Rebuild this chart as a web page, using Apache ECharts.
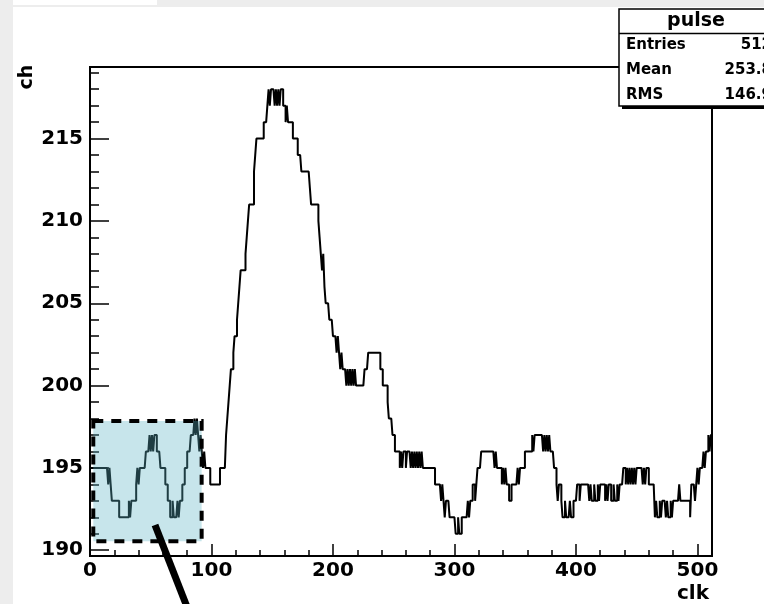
<!DOCTYPE html>
<html>
<head>
<meta charset="utf-8">
<script src="https://cdn.jsdelivr.net/npm/echarts@6/dist/echarts.min.js"></script>
<style>
  html, body { margin: 0; padding: 0; background: #fff; }
  #main { width: 764px; height: 604px; }
</style>
</head>
<body>
<div id="main"></div>
<script>
// histogram "pulse", 512 bins; each run = [value, number of consecutive bins]
const runs = [
  [195,15],[194,1],[195,1],[194,1],[193,6],[192,8],[193,1],[192,1],[193,4],[194,1],
  [195,1],[194,1],[195,5],[196,3],[197,1],[196,1],[197,1],[196,1],[197,2],[196,1],
  [196,2],[195,4],[194,2],[193,2],[192,2],[193,1],[192,3],[193,1],[192,1],[193,2],
  [194,2],[195,2],[196,3],[197,3],[198,1],[197,1],[198,1],[197,1],[196,1],[197,1],
  [196,1],[195,1],[196,1],[195,4],[194,8],[195,5],
  [197,1],[198,1],[199,1],[200,1],[201,2],[202,1],[203,2],[204,1],[205,1],[206,1],
  [207,4],[208,1],[209,1],[210,1],[211,4],[213,1],[214,1],[215,6],[216,3],
  [217,1],[218,1],[217,1],[218,3],[217,1],[218,1],[217,1],[218,1],[217,1],[218,2],
  [217,2],[216,1],[217,1],[216,4],[215,4],[214,3],[213,7],[212,1],[211,6],[210,1],
  [209,1],[208,1],[207,1],[208,1],[206,1],[205,3],[204,3],[203,3],[202,1],[203,1],
  [202,1],[201,1],[202,1],[201,1],[201,2],
  [200,1],[201,1],[200,1],[201,1],[200,1],[201,1],[200,1],[201,1],[200,7],[201,3],
  [202,10],[201,2],[200,4],[199,1],[198,3],[197,2],[196,4],
  [195,1],[196,1],[195,1],[196,2],[195,1],[196,3],[195,1],[196,1],[195,1],[196,1],
  [195,1],[196,1],[195,1],[196,1],[195,1],[196,1],
  [195,10],[194,5],[193,1],[194,1],[193,1],[192,1],[193,3],[192,5],[191,2],[192,1],
  [191,2],[192,5],[193,1],[192,1],[193,2],[194,2],[193,1],[194,1],[195,3],[196,11],
  [195,1],[196,1],[195,4],[194,1],[195,1],[194,1],[195,1],[194,2],[193,2],[194,5],
  [195,1],[194,1],[195,4],[196,6],
  [197,1],[196,1],[197,7],[196,1],[197,1],[196,1],[197,1],[196,1],[197,1],
  [196,3],[195,2],[194,1],[193,1],[194,2],
  [193,1],[192,2],[193,1],[192,3],[193,1],[192,2],[193,3],[194,2],[193,1],[194,7],
  [193,1],[194,1],[193,2],[194,1],[193,2],[194,1],[193,1],[194,4],
  [193,1],[194,1],[193,1],[194,2],[193,2],[194,1],[193,2],[194,1],[193,1],[194,3],
  [195,2],[194,1],[195,1],[194,1],[195,1],[194,1],[195,1],[194,1],[195,1],[194,1],
  [195,5],[194,1],[195,1],[194,1],[195,2],[194,5],
  [192,1],[193,1],[192,2],[193,1],[192,1],[193,3],[192,1],[193,1],[192,2],[193,1],
  [192,1],[193,5],[194,1],[193,8],[192,1],[194,3],[193,1],[194,1],[195,1],[194,1],
  [195,3],[196,1],[195,1],[196,2],[197,1],[196,1],[197,1]
];

const xMajor = [0, 100, 200, 300, 400, 500];
const xMinor = [20, 40, 60, 80, 120, 140, 160, 180, 220, 240, 260, 280,
                320, 340, 360, 380, 420, 440, 460, 480];
const yMajor = [190, 195, 200, 205, 210, 215];
const yMinor = [191, 192, 193, 194, 196, 197, 198, 199, 201, 202, 203, 204,
                206, 207, 208, 209, 211, 212, 213, 214, 216, 217, 218, 219];

const histName = 'pulse';
const statNames = ['Entries', 'Mean', 'RMS'];
const statValues = ['512', '253.8', '146.9'];

// highlighted region, in data units
const boxX = [2.7, 91.9];
const boxY = [190.54, 197.85];

const values = [];
runs.forEach(([v, n]) => { for (let k = 0; k < n; k++) values.push(v); });
const points = values.map((v, i) => [i, v]);
points.push([values.length, values[values.length - 1]]);

const FONT = 'DejaVu Sans';
const black = '#000';

const chart = echarts.init(document.getElementById('main'));
chart.setOption({
  animation: false,
  backgroundColor: '#fff',
  grid: {
    left: 90, right: 52, top: 67, bottom: 48,
    show: true, borderColor: black, borderWidth: 2
  },
  xAxis: [
    {
      type: 'value', min: 0, max: 512, position: 'bottom',
      axisLine: {onZero: false, lineStyle: {color: black, width: 2}},
      axisTick: {inside: true, length: 12, customValues: xMajor, lineStyle: {color: black, width: 1.5}},
      axisLabel: {customValues: xMajor, color: black, fontFamily: FONT, fontWeight: 'bold', fontSize: 20, margin: 5},
      splitLine: {show: false}
    },
    {
      type: 'value', min: 0, max: 512, position: 'bottom',
      axisLine: {show: false},
      axisTick: {inside: true, length: 6, customValues: xMinor, lineStyle: {color: black, width: 1.5}},
      axisLabel: {show: false},
      splitLine: {show: false}
    }
  ],
  yAxis: [
    {
      type: 'value', min: 189.65, max: 219.35, position: 'left',
      axisLine: {show: true, onZero: false, lineStyle: {color: black, width: 2}},
      axisTick: {show: true, inside: true, length: 19, customValues: yMajor, lineStyle: {color: black, width: 1.5}},
      axisLabel: {customValues: yMajor, color: black, fontFamily: FONT, fontWeight: 'bold', fontSize: 20, margin: 7},
      splitLine: {show: false}
    },
    {
      type: 'value', min: 189.65, max: 219.35, position: 'left',
      axisLine: {show: false},
      axisTick: {show: true, inside: true, length: 9, customValues: yMinor, lineStyle: {color: black, width: 1.5}},
      axisLabel: {show: false},
      splitLine: {show: false}
    }
  ],
  series: [{
    name: histName,
    type: 'line',
    step: 'end',
    data: points,
    showSymbol: false,
    symbol: 'none',
    clip: true,
    lineStyle: {color: black, width: 2}
  }]
});

const p0 = chart.convertToPixel({xAxisIndex: 0, yAxisIndex: 0}, [boxX[0], boxY[1]]);
const p1 = chart.convertToPixel({xAxisIndex: 0, yAxisIndex: 0}, [boxX[1], boxY[0]]);

const statsX = 619, statsY = 9, statsW = 160, statsH = 97;
const graphics = [
  // screenshot border
  {type: 'rect', z: 0, shape: {x: 0, y: 0, width: 764, height: 7}, style: {fill: '#ededed'}},
  {type: 'rect', z: 0, shape: {x: 0, y: 0, width: 13, height: 604}, style: {fill: '#ededed'}},
  {type: 'rect', z: 1, shape: {x: 13, y: 0, width: 144, height: 5}, style: {fill: '#fff'}},
  // axis titles
  {type: 'text', z: 50, x: 27, y: 77, rotation: Math.PI / 2,
   style: {text: 'ch', fill: black, font: 'bold 19px "DejaVu Sans"', align: 'center', verticalAlign: 'middle'}},
  {type: 'text', z: 50, x: 709, y: 594,
   style: {text: 'clk', fill: black, font: 'bold 20px "DejaVu Sans"', align: 'right', verticalAlign: 'middle'}},
  // highlighted region
  {type: 'rect', z: 100,
   shape: {x: p0[0], y: p0[1], width: p1[0] - p0[0], height: p1[1] - p0[1]},
   style: {fill: 'rgba(90,180,195,0.34)', stroke: black, lineWidth: 4, lineDash: [10, 8]}},
  {type: 'line', z: 101, shape: {x1: 155, y1: 525, x2: 189, y2: 612},
   style: {stroke: black, lineWidth: 7}},
  // stats box
  {type: 'rect', z: 110, shape: {x: statsX + 3, y: statsY + 3, width: statsW, height: statsH}, style: {fill: black}},
  {type: 'rect', z: 111, shape: {x: statsX, y: statsY, width: statsW, height: statsH},
   style: {fill: '#fff', stroke: black, lineWidth: 1.5}},
  {type: 'line', z: 112, shape: {x1: statsX, y1: statsY + 24.5, x2: statsX + statsW, y2: statsY + 24.5},
   style: {stroke: black, lineWidth: 1.5}},
  {type: 'text', z: 112, x: 696, y: 21,
   style: {text: histName, fill: black, font: 'bold 19px "DejaVu Sans"', align: 'center', verticalAlign: 'middle'}}
];
statNames.forEach((name, i) => {
  const y = 45 + i * 25;
  graphics.push({type: 'text', z: 112, x: 626, y: y,
    style: {text: name, fill: black, font: 'bold 15px "DejaVu Sans"', align: 'left', verticalAlign: 'middle'}});
  graphics.push({type: 'text', z: 112, x: 772, y: y,
    style: {text: statValues[i], fill: black, font: 'bold 15px "DejaVu Sans"', align: 'right', verticalAlign: 'middle'}});
});
chart.setOption({graphic: graphics});
</script>
</body>
</html>
